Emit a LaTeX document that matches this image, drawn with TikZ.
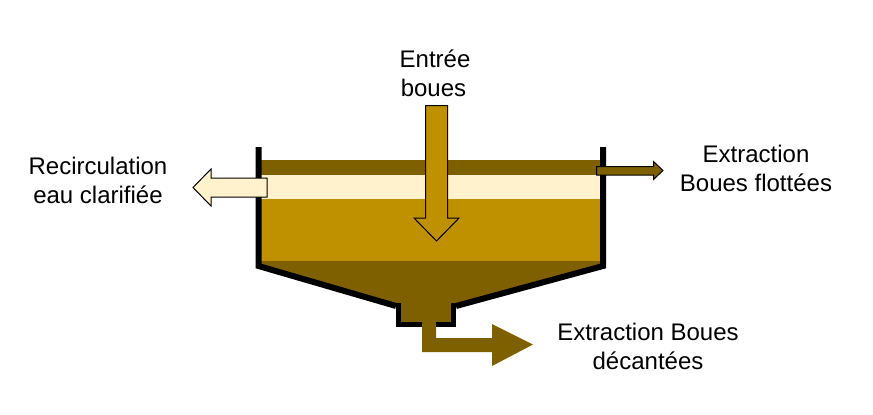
\documentclass[tikz,border=0pt]{standalone}
\usepackage{fontspec}
\setmainfont{Liberation Sans}
\definecolor{darkmud}{HTML}{7F6000}
\definecolor{cream}{HTML}{FFF2CC}
\definecolor{gold}{HTML}{BF9000}
\tikzset{
  label text/.style={align=center,inner sep=0pt,font=\fontsize{24}{29}\selectfont},
  wall/.style={draw=black,line width=6pt,miter limit=10},
  sump wall/.style={draw=black,line width=5pt,miter limit=10},
  arrow outline/.style={draw=black,line width=1pt,line join=miter}
}
\begin{document}
\begin{tikzpicture}[x=1pt,y=-1pt]
\useasboundingbox (0,0) rectangle (873,415);
% liquid layers
\fill[darkmud] (258,160) rectangle (601,175);
\fill[cream] (258,175) rectangle (601,199);
\fill[gold] (258,199) rectangle (601,261);
\fill[darkmud] (258,261) -- (601,261) -- (601,268) -- (456,306) -- (451,306) -- (451,323) -- (401,323) -- (401,306) -- (396,306) -- (258,268) -- cycle;
% outlet pipe
\fill[darkmud] (422,322) -- (436,322) -- (436,338) -- (492,338) -- (492,324) -- (533,344.5) -- (492,366) -- (492,352) -- (422,352) -- cycle;
% tank walls
\draw[wall] (258.5,147) -- (258.5,266) -- (396,306);
\draw[wall] (603,147) -- (603,266) -- (456,306);
\draw[sump wall] (398.5,303) -- (398.5,324.5) -- (453.5,324.5) -- (453.5,303);
% outlet pipe over the tank floor
\fill[darkmud] (422,320) rectangle (436,328);
% arrows
\draw[arrow outline,fill=gold] (425.5,105.5) -- (447.5,105.5) -- (447.5,218) -- (459,218) -- (436.5,241) -- (414,218) -- (425.5,218) -- cycle;
\draw[arrow outline,fill=cream] (267,178) -- (211,178) -- (211,169) -- (193,187.5) -- (211,206) -- (211,197) -- (267,197) -- cycle;
\draw[arrow outline,fill=darkmud] (596.5,166.5) -- (653.5,166.5) -- (653.5,161.5) -- (663,170.5) -- (653.5,179.5) -- (653.5,175) -- (596.5,175) -- cycle;
% labels
\node[label text] (entree) at (435,73) {Entrée\\boues\hspace*{3pt}};
\node[label text] (recirc) at (98,180.5) {Recirculation\\eau clarifiée};
\node[label text] (flot) at (756,168) {Extraction\\Boues flottées};
\node[label text] (decant) at (648,346.5) {Extraction Boues\\décantées};
\end{tikzpicture}
\end{document}
